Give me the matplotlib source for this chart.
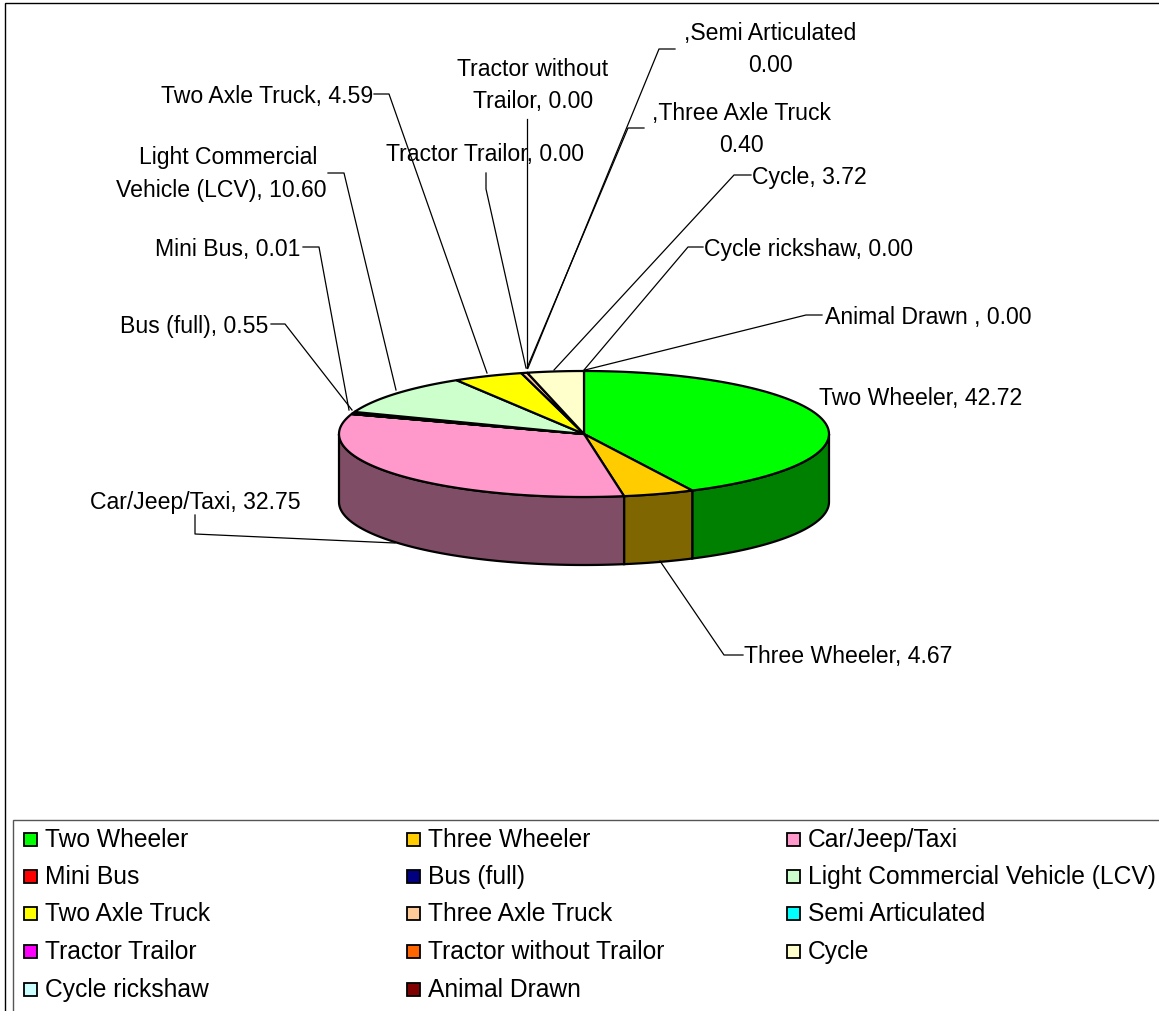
import numpy as np
import matplotlib
matplotlib.use("Agg")
import matplotlib.pyplot as plt
from matplotlib import patches

WIDTH, HEIGHT = 1159, 1012
FS = 16.6

categories = ["Two Wheeler", "Three Wheeler", "Car/Jeep/Taxi", "Mini Bus", "Bus (full)",
              "Light Commercial Vehicle (LCV)", "Two Axle Truck", "Three Axle Truck",
              "Semi Articulated", "Tractor Trailor", "Tractor without Trailor", "Cycle",
              "Cycle rickshaw", "Animal Drawn"]
values = [42.72, 4.67, 32.75, 0.01, 0.55, 10.60, 4.59, 0.40, 0.00, 0.00, 0.00, 3.72, 0.00, 0.00]
colors = ["#00FF00", "#FFCC00", "#FF99CC", "#FF0000", "#000080", "#CCFFCC", "#FFFF00",
          "#FFCC99", "#00FFFF", "#FF00FF", "#FF6600", "#FFFFCC", "#CCFFFF", "#800000"]

# label text, position, leader line
labels = [
    ("Two Wheeler, 42.72", 921, 398, None),
    ("Three Wheeler, 4.67", 848, 657, [(660, 562), (724, 656), (743, 656)]),
    ("Car/Jeep/Taxi, 32.75", 195, 502, [(195, 516), (195, 535), (395, 544)]),
    ("Mini Bus, 0.01", 228, 249, [(303, 248), (319, 248), (349, 411)]),
    ("Bus (full), 0.55", 194, 326, [(271, 325), (285, 325), (352, 411)]),
    ("Light Commercial", 228, 157, None),
    ("Vehicle (LCV), 10.60", 221, 190, [(328, 174), (344, 174), (396, 391)]),
    ("Two Axle Truck, 4.59", 267, 96, [(374, 95), (389, 95), (487, 374)]),
    (",Three Axle Truck\n0.40", 741, 129, [(644, 129), (628, 129), (527, 369)]),
    (",Semi Articulated\n0.00", 770, 49, [(675, 50), (659, 50), (528, 369)]),
    ("Tractor Trailor, 0.00", 485, 154, [(486, 174), (486, 190), (526, 369)]),
    ("Tractor without\nTrailor, 0.00", 533, 85, [(527, 120), (527, 369)]),
    ("Cycle, 3.72", 809, 177, [(751, 176), (734, 176), (554, 371)]),
    ("Cycle rickshaw, 0.00", 809, 249, [(703, 248), (688, 248), (584, 371)]),
    ("Animal Drawn , 0.00", 928, 317, [(822, 316), (806, 316), (585, 371)]),
]

CX, CY, RX, RY, DEPTH = 584, 435, 245, 63, 68


def ellipse_xy(theta, dy=0):
    return CX + RX * np.sin(theta), CY + dy - RY * np.cos(theta)


def darken(c):
    return tuple(v * 0.5 for v in matplotlib.colors.to_rgb(c))


plt.rcParams["font.family"] = ["Liberation Sans", "DejaVu Sans"]
fig = plt.figure(figsize=(WIDTH / 100, HEIGHT / 100), dpi=100)
ax = fig.add_axes([0, 0, 1, 1])
ax.set_xlim(0, WIDTH)
ax.set_ylim(HEIGHT, 0)
ax.axis("off")

ax.add_patch(patches.Rectangle((5, 4), WIDTH + 20, HEIGHT + 20, fc="white", ec="black", lw=1))

edges = np.cumsum([0] + values) / sum(values) * 2 * np.pi

# side walls, only the part of each slice that faces the viewer
for i in range(len(values)):
    a = max(edges[i], np.pi / 2)
    b = min(edges[i + 1], 3 * np.pi / 2)
    if b <= a:
        continue
    t = np.linspace(a, b, 80)
    x, y = ellipse_xy(t)
    xb, yb = ellipse_xy(t[::-1], DEPTH)
    ax.fill(np.r_[x, xb], np.r_[y, yb], fc=darken(colors[i]), ec="black", lw=1.6, zorder=2)

# top slices
for i in range(len(values)):
    if values[i] == 0:
        continue
    t = np.linspace(edges[i], edges[i + 1], 120)
    x, y = ellipse_xy(t)
    ax.fill(np.r_[CX, x], np.r_[CY, y], fc=colors[i], ec="black", lw=1.6, zorder=3)

for text, x, y, line in labels:
    ax.text(x, y, text, fontsize=FS, ha="center", va="center", linespacing=1.5, zorder=6)
    if line:
        ax.plot(*zip(*line), color="black", lw=0.9, zorder=5)

# legend
ax.add_patch(patches.Rectangle((13, 821), WIDTH + 20, HEIGHT, fc="white", ec="#555555", lw=1, zorder=1))
col_x = [24, 407, 787]
row_y = [840, 877, 914, 952, 990]
for i, name in enumerate(categories):
    lx = col_x[i % 3]
    ly = row_y[i // 3]
    ax.add_patch(patches.Rectangle((lx, ly - 6), 13, 13, fc=colors[i], ec="black", lw=1.3))
    ax.text(lx + 21, ly, name, fontsize=17.7, ha="left", va="center")

fig.savefig("out.png", dpi=100)
